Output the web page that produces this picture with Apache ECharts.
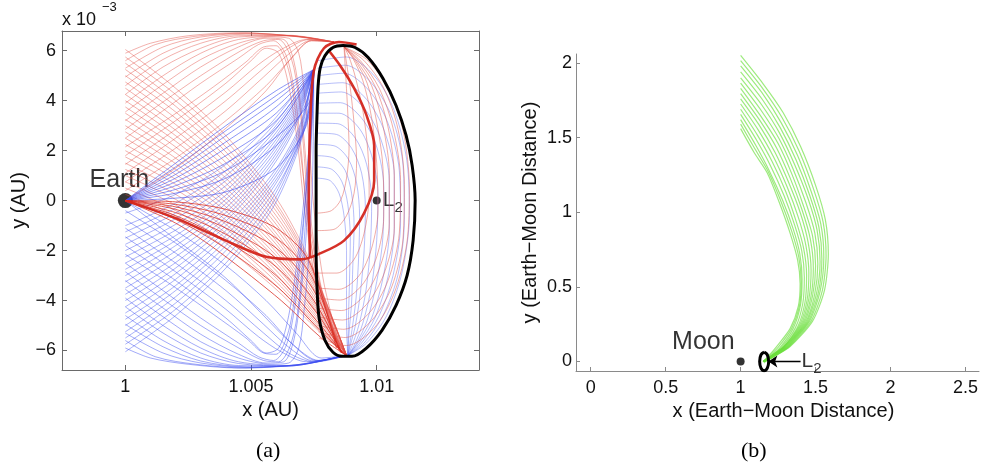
<!DOCTYPE html>
<html><head><meta charset="utf-8">
<script src="https://cdn.jsdelivr.net/npm/echarts/dist/echarts.min.js"></script>
<style>html,body{margin:0;padding:0;background:#fff}#c{width:987px;height:468px}</style>
</head><body><div id="c"></div>
<script>
// ---------- Panel (a): x in AU, y in 1e-3 AU ----------
const xTicksA = [1, 1.005, 1.01];
const yTicksA = [-6, -4, -2, 0, 2, 4, 6];
const earth = [[1, 0]];
const l2a = [[1.01, 0]];
const haloOrbit = [[1.00759,0],[1.00759,2.0],[1.00763,3.6],[1.00767,4.6],[1.00775,5.3],[1.00794,5.8],[1.00826,6.13],[1.00866,6.21],[1.00914,6.13],[1.00966,5.73],[1.01025,4.89],[1.01077,3.81],[1.01117,2.61],[1.01141,1.41],[1.01153,0],[1.01145,-1.59],[1.01121,-2.99],[1.01077,-4.19],[1.01021,-5.19],[1.00958,-5.91],[1.00902,-6.23],[1.00862,-6.23],[1.00826,-6.07],[1.00794,-5.59],[1.00771,-4.71],[1.00763,-3.59],[1.00759,-2.0],[1.00759,0]];

const redFalling = [
 [[1,6.05],[1.002,4.5],[1.004,2.6],[1.006,0.1],[1.0073,-2.3],[1.0082,-4.6],[1.0088,-6.2]],
 [[1,5.75],[1.002,4.25],[1.004,2.4],[1.006,-0.1],[1.00732,-2.45],[1.00822,-4.68],[1.0088,-6.2]],
 [[1,5.5],[1.002,4.0],[1.004,2.15],[1.006,-0.25],[1.00735,-2.6],[1.00825,-4.75],[1.0088,-6.2]],
 [[1,5.25],[1.002,3.78],[1.004,1.95],[1.006,-0.42],[1.00738,-2.75],[1.00828,-4.82],[1.0088,-6.2]],
 [[1,5.0],[1.002,3.55],[1.004,1.75],[1.006,-0.6],[1.0074,-2.9],[1.0083,-4.9],[1.0088,-6.2]],
 [[1,4.75],[1.002,3.3],[1.004,1.52],[1.006,-0.78],[1.00742,-3.05],[1.00832,-4.98],[1.0088,-6.2]],
 [[1,4.5],[1.002,3.05],[1.004,1.3],[1.006,-0.95],[1.00745,-3.2],[1.00835,-5.05],[1.0088,-6.2]],
 [[1,4.25],[1.002,2.82],[1.004,1.1],[1.006,-1.12],[1.00748,-3.35],[1.00838,-5.18],[1.0088,-6.2]],
 [[1,4.0],[1.002,2.6],[1.004,0.9],[1.006,-1.3],[1.0075,-3.5],[1.0084,-5.3],[1.0088,-6.2]],
 [[1,3.75],[1.002,2.38],[1.004,0.7],[1.006,-1.45],[1.0075,-3.62],[1.0084,-5.35],[1.0088,-6.2]],
 [[1,3.5],[1.002,2.15],[1.004,0.5],[1.006,-1.6],[1.0075,-3.75],[1.0084,-5.4],[1.0088,-6.2]],
 [[1,3.25],[1.002,1.92],[1.004,0.3],[1.006,-1.75],[1.0075,-3.88],[1.0084,-5.45],[1.0088,-6.2]],
 [[1,3.0],[1.002,1.7],[1.004,0.1],[1.006,-1.9],[1.0075,-4.0],[1.0084,-5.5],[1.0088,-6.2]],
 [[1,2.75],[1.002,1.48],[1.004,-0.08],[1.006,-2.05],[1.00752,-4.12],[1.00842,-5.55],[1.0088,-6.2]],
 [[1,2.5],[1.002,1.25],[1.004,-0.25],[1.006,-2.2],[1.00755,-4.25],[1.00845,-5.6],[1.0088,-6.2]],
 [[1,2.25],[1.002,1.05],[1.004,-0.42],[1.006,-2.35],[1.00758,-4.38],[1.00845,-5.65],[1.0088,-6.2]],
 [[1,2.0],[1.002,0.85],[1.004,-0.6],[1.006,-2.5],[1.0076,-4.5],[1.00845,-5.7],[1.0088,-6.2]],
 [[1,1.75],[1.002,0.65],[1.004,-0.78],[1.006,-2.65],[1.00762,-4.62],[1.00848,-5.75],[1.0088,-6.2]],
 [[1,1.5],[1.002,0.45],[1.004,-0.95],[1.006,-2.8],[1.00765,-4.75],[1.0085,-5.8],[1.0088,-6.2]],
 [[1,1.25],[1.002,0.25],[1.004,-1.12],[1.006,-2.95],[1.00768,-4.88],[1.0085,-5.85],[1.0088,-6.2]],
 [[1,1.0],[1.002,0.05],[1.004,-1.3],[1.006,-3.1],[1.0077,-5.0],[1.0085,-5.9],[1.0088,-6.2]],
 [[1,0.75],[1.002,-0.18],[1.004,-1.5],[1.006,-3.25],[1.00772,-5.1],[1.0088,-6.2]],
 [[1,0.5],[1.002,-0.4],[1.004,-1.7],[1.006,-3.4],[1.00775,-5.2],[1.0088,-6.2]],
 [[1,0.25],[1.002,-0.62],[1.004,-1.9],[1.006,-3.55],[1.00778,-5.3],[1.0088,-6.2]]
];
const redRising = [
 [[1,5.9],[1.001,6.3],[1.0025,6.6],[1.0045,6.72],[1.0065,6.6],[1.0082,6.35]],
 [[1,5.6],[1.0012,6.25],[1.0028,6.58],[1.0048,6.71],[1.0068,6.58],[1.0083,6.35]],
 [[1,5.3],[1.0015,6.15],[1.003,6.55],[1.005,6.7],[1.007,6.55],[1.0083,6.35]],
 [[1,4.95],[1.0015,5.9],[1.003,6.45],[1.0048,6.66],[1.0068,6.58],[1.0083,6.35]],
 [[1,4.6],[1.0015,5.65],[1.003,6.3],[1.0045,6.6],[1.0065,6.62],[1.0083,6.35]],
 [[1,4.25],[1.0015,5.35],[1.003,6.1],[1.0045,6.55],[1.0065,6.6],[1.0083,6.35]],
 [[1,3.9],[1.0015,5.0],[1.003,5.9],[1.0045,6.45],[1.0065,6.6],[1.0083,6.35]],
 [[1,3.55],[1.0015,4.65],[1.003,5.65],[1.0045,6.3],[1.0058,6.55],[1.0065,6.5],[1.0069,5.9],[1.0071,4.5],[1.0073,2.5],[1.0075,-0.3],[1.0079,-3.3],[1.0086,-6.1]],
 [[1,3.2],[1.0015,4.3],[1.003,5.35],[1.0045,6.15],[1.0056,6.5],[1.0063,6.45],[1.0067,5.6],[1.00695,4.0],[1.00715,2.0],[1.00735,-0.5],[1.0078,-3.5],[1.0086,-6.1]],
 [[1,2.85],[1.0015,3.95],[1.003,5.0],[1.0046,6.0],[1.0055,6.4],[1.0061,6.45],[1.0066,5.7],[1.0069,4.1],[1.0071,2.0],[1.0073,-0.6],[1.0078,-3.6],[1.0086,-6.1]],
 [[1,2.5],[1.0015,3.6],[1.003,4.7],[1.0045,5.7],[1.0053,6.25],[1.0059,6.4],[1.0064,5.8],[1.00675,4.2],[1.007,2.0],[1.00725,-0.8],[1.0078,-3.8],[1.0086,-6.1]],
 [[1,2.15],[1.0018,3.35],[1.0035,4.55],[1.0048,5.55],[1.0055,6.15],[1.006,6.2],[1.0065,5.2],[1.0068,3.3],[1.0071,0.8],[1.0076,-3.0],[1.0086,-6.1]],
 [[1,1.8],[1.002,3.2],[1.004,4.7],[1.005,5.6],[1.0056,6.1],[1.0061,5.9],[1.0065,4.6],[1.00685,2.3],[1.00715,-0.5],[1.0077,-3.8],[1.0086,-6.1]],
 [[1,1.45],[1.002,2.85],[1.004,4.35],[1.0053,5.45],[1.0062,6.05],[1.0072,6.45],[1.0083,6.35]],
 [[1,1.1],[1.002,2.5],[1.004,4.0],[1.0055,5.3],[1.0065,6.1],[1.0073,6.45],[1.0083,6.35]],
 [[1,0.75],[1.002,2.1],[1.004,3.6],[1.0055,4.95],[1.0066,5.95],[1.0074,6.42],[1.0083,6.35]],
 [[1,0.4],[1.002,1.7],[1.004,3.2],[1.0056,4.6],[1.0067,5.8],[1.0074,6.4],[1.0083,6.35]],
 [[1,0],[1.002,1.3],[1.004,2.9],[1.0056,4.4],[1.0066,5.7],[1.0074,6.4],[1.0083,6.35]]
];
const redEarth = [
 [[1,0],[1.002,-0.9],[1.0038,-2.1],[1.0062,-4.0],[1.0078,-5.5],[1.0088,-6.2]],
 [[1,0],[1.002,-0.75],[1.0039,-1.85],[1.0061,-3.5],[1.0077,-5.15],[1.00875,-6.18]],
 [[1,0],[1.002,-0.6],[1.004,-1.6],[1.006,-3.0],[1.0076,-4.8],[1.0087,-6.15]],
 [[1,0],[1.002,-0.48],[1.004,-1.35],[1.006,-2.65],[1.00755,-4.4],[1.00865,-6.12]],
 [[1,0],[1.002,-0.35],[1.004,-1.1],[1.006,-2.3],[1.0075,-4.0],[1.0086,-6.1]],
 [[1,0],[1.002,-0.25],[1.004,-0.85],[1.006,-1.9],[1.00745,-3.5],[1.00855,-6.05]],
 [[1,0],[1.002,-0.15],[1.004,-0.6],[1.006,-1.5],[1.0074,-3.0],[1.0085,-6.0]],
 [[1,0],[1.002,-0.05],[1.004,-0.35],[1.006,-1.1],[1.0073,-2.4],[1.0084,-5.9]]
];
const redInner = [
 [[1.0077,-5.5],[1.0088,-5.8],[1.0099,-5.1],[1.0107,-3.7],[1.0112,-1.7],[1.0113,0.5],[1.01105,2.8],[1.01045,4.5],[1.0096,5.65],[1.0087,6.15]],
 [[1.00768,-5.25],[1.00875,-5.48],[1.0098,-4.8],[1.0106,-3.45],[1.01105,-1.5],[1.0111,0.65],[1.01085,2.85],[1.01028,4.5],[1.00948,5.62],[1.0087,6.15]],
 [[1.00765,-5.0],[1.0087,-5.15],[1.0097,-4.5],[1.01045,-3.2],[1.0109,-1.3],[1.01095,0.8],[1.01065,2.9],[1.0101,4.5],[1.00935,5.6],[1.0087,6.15]],
 [[1.00765,-4.65],[1.00865,-4.78],[1.0096,-4.15],[1.0103,-2.9],[1.0107,-1.1],[1.0107,0.95],[1.01045,2.95],[1.00995,4.55],[1.00928,5.6],[1.0087,6.15]],
 [[1.00765,-4.3],[1.0086,-4.4],[1.0095,-3.8],[1.01015,-2.6],[1.0105,-0.9],[1.0105,1.1],[1.01025,3.0],[1.0098,4.6],[1.0092,5.6],[1.0087,6.15]],
 [[1.00765,-3.9],[1.00855,-3.98],[1.0094,-3.4],[1.01,-2.25],[1.01028,-0.65],[1.01025,1.3],[1.01,3.15],[1.00962,4.7],[1.00912,5.65],[1.0087,6.15]],
 [[1.00765,-3.5],[1.0085,-3.55],[1.0093,-3.0],[1.0098,-1.9],[1.01005,-0.4],[1.01,1.5],[1.0098,3.3],[1.00945,4.8],[1.00905,5.7],[1.0087,6.15]],
 [[1.00765,-2.9],[1.00842,-2.9],[1.0091,-2.35],[1.0095,-1.3],[1.0097,0.2],[1.00965,1.95],[1.00945,3.6],[1.00915,4.95],[1.0089,5.75],[1.0087,6.15]],
 [[1.00765,-1.2],[1.0083,-1.15],[1.0088,-0.6],[1.0091,0.3],[1.0092,1.6],[1.0091,3.1],[1.00895,4.5],[1.0088,5.5],[1.0087,6.15]],
 [[1.00765,-0.5],[1.0082,-0.4],[1.00858,0.05],[1.0088,0.9],[1.0089,2.1],[1.00885,3.5],[1.00878,4.8],[1.0087,6.15]]
];
const redThick = [
 [[1,0],[1.002,-0.7],[1.004,-1.6],[1.0056,-2.25],[1.007,-2.35],[1.00767,-2.15],[1.0087,-1.6],[1.0095,-0.5],[1.0099,0.8],[1.0099,2.2],[1.0096,3.4],[1.0091,4.5],[1.00855,5.4],[1.0081,6.0]],
 [[1.00735,-2.3],[1.0073,0],[1.00735,3.0],[1.0075,5.2],[1.0079,6.1],[1.0085,6.35],[1.0092,6.25]]
];
const blueRising = [
 [[1,-6.05],[1.002,-4.6],[1.004,-2.7],[1.0058,-0.4],[1.0068,1.8],[1.0073,3.6],[1.0075,5.25]],
 [[1,-5.75],[1.002,-4.35],[1.004,-2.5],[1.0058,-0.2],[1.0068,1.95],[1.0073,3.7],[1.0075,5.25]],
 [[1,-5.5],[1.002,-4.1],[1.004,-2.25],[1.0058,0],[1.0068,2.1],[1.0073,3.8],[1.0075,5.25]],
 [[1,-5.25],[1.002,-3.85],[1.004,-2.0],[1.0058,0.2],[1.0069,2.25],[1.0074,3.9],[1.0075,5.25]],
 [[1,-5.0],[1.002,-3.6],[1.004,-1.8],[1.0058,0.4],[1.0069,2.4],[1.0074,4.0],[1.0075,5.25]],
 [[1,-4.75],[1.002,-3.4],[1.004,-1.6],[1.0058,0.55],[1.0069,2.5],[1.0075,5.25]],
 [[1,-4.5],[1.002,-3.15],[1.004,-1.4],[1.0058,0.7],[1.0069,2.65],[1.0075,5.25]],
 [[1,-4.25],[1.002,-2.92],[1.004,-1.2],[1.0058,0.85],[1.0069,2.78],[1.0075,5.25]],
 [[1,-4.0],[1.002,-2.7],[1.004,-1.0],[1.0058,1.0],[1.0069,2.9],[1.0075,5.25]],
 [[1,-3.75],[1.002,-2.48],[1.004,-0.82],[1.0057,1.15],[1.0068,3.02],[1.0075,5.25]],
 [[1,-3.5],[1.002,-2.25],[1.004,-0.65],[1.0057,1.3],[1.0068,3.15],[1.0075,5.25]],
 [[1,-3.25],[1.002,-2.02],[1.004,-0.48],[1.0057,1.45],[1.0068,3.28],[1.0075,5.25]],
 [[1,-3.0],[1.002,-1.8],[1.004,-0.3],[1.0057,1.6],[1.0068,3.4],[1.0075,5.25]],
 [[1,-2.75],[1.002,-1.6],[1.004,-0.12],[1.0057,1.75],[1.0068,3.5],[1.0075,5.25]],
 [[1,-2.5],[1.002,-1.4],[1.004,0.05],[1.0057,1.9],[1.0068,3.6],[1.0075,5.25]],
 [[1,-2.25],[1.002,-1.18],[1.004,0.22],[1.0057,2.05],[1.0068,3.7],[1.0075,5.25]],
 [[1,-2.0],[1.002,-0.95],[1.004,0.4],[1.0057,2.2],[1.0068,3.8],[1.0075,5.25]],
 [[1,-1.75],[1.002,-0.72],[1.004,0.6],[1.0057,2.35],[1.0068,3.9],[1.0075,5.25]],
 [[1,-1.5],[1.002,-0.5],[1.004,0.8],[1.0057,2.5],[1.0068,4.0],[1.0075,5.25]],
 [[1,-1.25],[1.002,-0.3],[1.004,1.0],[1.0057,2.65],[1.0068,4.1],[1.0075,5.25]],
 [[1,-1.0],[1.002,-0.1],[1.004,1.2],[1.0057,2.8],[1.0068,4.2],[1.0075,5.25]],
 [[1,-0.5],[1.002,0.25],[1.004,1.45],[1.0057,3.0],[1.0068,4.35],[1.0075,5.25]]
];
const blueEarth = [
 [[1,0],[1.002,1.5],[1.004,3.0],[1.006,4.4],[1.0075,5.25]],
 [[1,0],[1.002,1.35],[1.004,2.8],[1.006,4.2],[1.0075,5.25]],
 [[1,0],[1.002,1.2],[1.004,2.6],[1.006,4.0],[1.0075,5.25]],
 [[1,0],[1.002,1.05],[1.004,2.35],[1.006,3.75],[1.0075,5.25]],
 [[1,0],[1.002,0.9],[1.004,2.1],[1.006,3.5],[1.0075,5.25]],
 [[1,0],[1.002,0.75],[1.004,1.8],[1.006,3.2],[1.0075,5.25]],
 [[1,0],[1.002,0.6],[1.004,1.5],[1.006,2.9],[1.0075,5.25]],
 [[1,0],[1.002,0.45],[1.004,1.2],[1.006,2.55],[1.0073,3.9],[1.0075,5.25]],
 [[1,0],[1.002,0.3],[1.004,0.9],[1.006,2.2],[1.0071,3.7],[1.0075,5.25]],
 [[1,0],[1.002,0.1],[1.004,0.35],[1.006,1.3],[1.0072,3.0],[1.0075,5.25]]
];
const blueFalling = [
 [[1,-5.9],[1.001,-6.3],[1.0025,-6.55],[1.0045,-6.7],[1.0065,-6.6],[1.008,-6.4],[1.0088,-6.2]],
 [[1,-5.6],[1.0012,-6.25],[1.0028,-6.55],[1.0048,-6.7],[1.0068,-6.58],[1.0085,-6.25]],
 [[1,-5.3],[1.0015,-6.1],[1.003,-6.5],[1.005,-6.68],[1.007,-6.55],[1.0085,-6.25]],
 [[1,-4.95],[1.0015,-5.85],[1.003,-6.42],[1.0048,-6.65],[1.0068,-6.6],[1.0085,-6.25]],
 [[1,-4.6],[1.0015,-5.6],[1.003,-6.3],[1.0045,-6.6],[1.0065,-6.62],[1.0085,-6.25]],
 [[1,-4.25],[1.0015,-5.3],[1.003,-6.1],[1.0045,-6.52],[1.0065,-6.62],[1.0085,-6.25]],
 [[1,-3.9],[1.0015,-5.0],[1.003,-5.9],[1.0045,-6.45],[1.0065,-6.6],[1.0085,-6.25]],
 [[1,-3.55],[1.0015,-4.65],[1.003,-5.65],[1.0045,-6.3],[1.0058,-6.55],[1.0065,-6.5],[1.0069,-5.9],[1.0071,-4.5],[1.0073,-2.2],[1.00745,1.0],[1.0075,5.25]],
 [[1,-3.2],[1.0015,-4.3],[1.003,-5.35],[1.0045,-6.15],[1.0056,-6.5],[1.0063,-6.45],[1.0067,-5.6],[1.00695,-4.0],[1.00715,-2.0],[1.0073,0.5],[1.00745,3.5],[1.0075,5.25]],
 [[1,-2.85],[1.0015,-3.95],[1.003,-5.0],[1.0046,-5.95],[1.0055,-6.4],[1.0061,-6.45],[1.0066,-5.7],[1.0069,-4.1],[1.0071,-1.8],[1.0073,1.2],[1.0075,5.25]],
 [[1,-2.5],[1.0015,-3.6],[1.003,-4.7],[1.0045,-5.7],[1.0053,-6.25],[1.0059,-6.4],[1.0064,-5.8],[1.00675,-4.2],[1.007,-2.0],[1.0072,0.5],[1.0074,3.3],[1.0075,5.25]],
 [[1,-2.15],[1.0018,-3.35],[1.0035,-4.55],[1.0048,-5.5],[1.0055,-6.1],[1.006,-6.15],[1.0065,-5.2],[1.0068,-3.3],[1.0071,-0.6],[1.0074,2.8],[1.0075,5.25]],
 [[1,-1.8],[1.002,-3.2],[1.004,-4.7],[1.005,-5.6],[1.0056,-6.1],[1.0061,-5.9],[1.0065,-4.6],[1.00685,-2.3],[1.00715,0.5],[1.0074,3.2],[1.0075,5.25]],
 [[1,-1.45],[1.002,-2.85],[1.004,-4.35],[1.0053,-5.45],[1.0062,-6.05],[1.0072,-6.45],[1.0088,-6.2]],
 [[1,-1.1],[1.002,-2.5],[1.004,-4.0],[1.0055,-5.3],[1.0065,-6.1],[1.0075,-6.45],[1.0088,-6.2]],
 [[1,-0.75],[1.002,-2.1],[1.004,-3.6],[1.0055,-4.95],[1.0066,-5.95],[1.0075,-6.42],[1.0088,-6.2]],
 [[1,-0.4],[1.002,-1.7],[1.004,-3.2],[1.0056,-4.6],[1.0067,-5.8],[1.0076,-6.4],[1.0088,-6.2]],
 [[1,0],[1.002,-1.2],[1.004,-2.6],[1.0056,-4.0],[1.0068,-5.3],[1.0078,-6.3],[1.0088,-6.2]],
 [[1,0],[1.002,-1.55],[1.004,-3.1],[1.0054,-4.5],[1.0066,-5.7],[1.0077,-6.4],[1.0088,-6.2]]
];
const blueInner = [
 [[1.00765,5.6],[1.0088,5.75],[1.0099,5.0],[1.0107,3.6],[1.0112,1.6],[1.0113,-0.6],[1.011,-2.9],[1.0104,-4.6],[1.0096,-5.7],[1.00885,-6.2]],
 [[1.00765,5.3],[1.00875,5.42],[1.0098,4.7],[1.0106,3.35],[1.01105,1.4],[1.0111,-0.75],[1.01085,-2.95],[1.01025,-4.6],[1.0095,-5.7],[1.00885,-6.2]],
 [[1.00765,5.0],[1.0087,5.1],[1.0097,4.4],[1.01045,3.1],[1.0109,1.2],[1.01095,-0.9],[1.01065,-3.0],[1.0101,-4.6],[1.0094,-5.7],[1.00885,-6.2]],
 [[1.00765,4.65],[1.00865,4.72],[1.0096,4.05],[1.0103,2.8],[1.0107,1.0],[1.0107,-1.05],[1.01045,-3.05],[1.00995,-4.65],[1.00932,-5.7],[1.00885,-6.2]],
 [[1.00765,4.3],[1.0086,4.35],[1.0095,3.7],[1.01015,2.5],[1.0105,0.8],[1.0105,-1.2],[1.01025,-3.1],[1.0098,-4.7],[1.00925,-5.7],[1.00885,-6.2]],
 [[1.00765,3.9],[1.00855,3.92],[1.0094,3.3],[1.01,2.15],[1.01028,0.55],[1.01025,-1.4],[1.01,-3.25],[1.00962,-4.8],[1.00918,-5.75],[1.00885,-6.2]],
 [[1.00765,3.5],[1.0085,3.5],[1.0093,2.9],[1.0098,1.8],[1.01005,0.3],[1.01,-1.6],[1.0098,-3.4],[1.00945,-4.9],[1.0091,-5.8],[1.00885,-6.2]],
 [[1.00765,3.1],[1.00845,3.08],[1.00915,2.5],[1.0096,1.45],[1.0098,0.0],[1.00975,-1.8],[1.00958,-3.55],[1.0093,-4.95],[1.00902,-5.8],[1.00885,-6.2]],
 [[1.00765,2.7],[1.0084,2.65],[1.009,2.1],[1.0094,1.1],[1.00955,-0.3],[1.0095,-2.0],[1.00935,-3.7],[1.00915,-5.0],[1.00895,-5.8],[1.00885,-6.2]],
 [[1.00765,2.25],[1.00835,2.18],[1.00888,1.65],[1.0092,0.7],[1.00932,-0.65],[1.00928,-2.3],[1.00918,-3.9],[1.00902,-5.15],[1.00885,-6.2]],
 [[1.00765,1.8],[1.0083,1.7],[1.00875,1.2],[1.009,0.3],[1.0091,-1.0],[1.00905,-2.6],[1.009,-4.1],[1.0089,-5.3],[1.00885,-6.2]],
 [[1.00765,1.35],[1.00822,1.25],[1.00862,0.75],[1.00885,-0.15],[1.00895,-1.5],[1.00892,-3.1],[1.00888,-4.6],[1.00885,-6.2]],
 [[1.00765,0.9],[1.00815,0.8],[1.0085,0.3],[1.0087,-0.6],[1.0088,-2.0],[1.0088,-3.6],[1.0088,-5.0],[1.00885,-6.2]]
];

// ---------- Panel (b): Earth-Moon distances ----------
const xTicksB = [0, 0.5, 1, 1.5, 2, 2.5];
const yTicksB = [0, 0.5, 1, 1.5, 2];
const moon = [[1, 0]];
const l2Label = [[1.4, 0]];
const l2Arrow = [[1.4, 0], [1.185, 0]];
const smallOrbit = [[1.157,0.063],[1.178,0.045],[1.187,0],[1.178,-0.045],[1.157,-0.063],[1.136,-0.045],[1.127,0],[1.136,0.045],[1.157,0.063]];
const greenArcs = [
 [[1.0,2.05],[1.15,1.86],[1.284,1.666],[1.40,1.44],[1.50,1.18],[1.565,0.95],[1.585,0.72],[1.56,0.48],[1.48,0.27],[1.33,0.1],[1.2,0.02],[1.16,0.0]],
 [[1.0,2.015],[1.15,1.825],[1.277,1.633],[1.39,1.41],[1.485,1.16],[1.55,0.935],[1.57,0.71],[1.545,0.475],[1.47,0.27],[1.325,0.1],[1.2,0.02],[1.16,0.0]],
 [[1.0,1.98],[1.15,1.79],[1.27,1.60],[1.38,1.38],[1.47,1.14],[1.535,0.92],[1.555,0.70],[1.53,0.47],[1.46,0.27],[1.32,0.1],[1.2,0.02],[1.16,0.0]],
 [[1.0,1.94],[1.145,1.755],[1.265,1.565],[1.37,1.35],[1.46,1.115],[1.522,0.9],[1.542,0.685],[1.518,0.46],[1.45,0.265],[1.315,0.1],[1.195,0.02],[1.158,0.0]],
 [[1.0,1.9],[1.14,1.72],[1.26,1.53],[1.36,1.32],[1.45,1.09],[1.51,0.88],[1.53,0.67],[1.505,0.45],[1.44,0.26],[1.31,0.1],[1.19,0.02],[1.155,-0.01]],
 [[1.0,1.865],[1.135,1.685],[1.255,1.495],[1.35,1.29],[1.435,1.065],[1.495,0.86],[1.515,0.655],[1.493,0.445],[1.43,0.255],[1.305,0.1],[1.19,0.02],[1.155,0.0]],
 [[1.0,1.83],[1.13,1.65],[1.25,1.46],[1.34,1.26],[1.42,1.04],[1.48,0.84],[1.50,0.64],[1.48,0.44],[1.42,0.25],[1.30,0.1],[1.19,0.02],[1.155,0.0]],
 [[1.0,1.795],[1.125,1.62],[1.24,1.43],[1.33,1.23],[1.41,1.015],[1.465,0.82],[1.485,0.625],[1.468,0.43],[1.41,0.245],[1.295,0.1],[1.185,0.02],[1.152,0.0]],
 [[1.0,1.76],[1.12,1.59],[1.23,1.40],[1.32,1.2],[1.4,0.99],[1.45,0.8],[1.47,0.61],[1.455,0.42],[1.40,0.24],[1.29,0.1],[1.18,0.02],[1.15,0.0]],
 [[1.0,1.725],[1.115,1.555],[1.22,1.37],[1.31,1.17],[1.385,0.965],[1.435,0.78],[1.455,0.595],[1.443,0.41],[1.39,0.235],[1.285,0.095],[1.18,0.02],[1.15,0.0]],
 [[1.0,1.69],[1.11,1.52],[1.21,1.34],[1.30,1.14],[1.37,0.94],[1.42,0.76],[1.44,0.58],[1.43,0.40],[1.38,0.23],[1.28,0.09],[1.18,0.02],[1.15,0.0]],
 [[1.0,1.655],[1.105,1.485],[1.2,1.31],[1.29,1.11],[1.36,0.915],[1.408,0.74],[1.425,0.565],[1.415,0.39],[1.365,0.225],[1.27,0.09],[1.18,0.02],[1.15,0.0]],
 [[1.0,1.62],[1.10,1.45],[1.19,1.28],[1.28,1.08],[1.35,0.89],[1.395,0.72],[1.41,0.55],[1.40,0.38],[1.35,0.22],[1.26,0.09],[1.18,0.02],[1.15,0.0]],
 [[1.0,1.59],[1.095,1.425],[1.185,1.27],[1.27,1.07],[1.34,0.875],[1.388,0.7],[1.404,0.535],[1.393,0.375],[1.34,0.22],[1.25,0.095],[1.18,0.025],[1.15,0.0]],
 [[1.0,1.56],[1.09,1.40],[1.178,1.263],[1.26,1.06],[1.33,0.86],[1.38,0.68],[1.397,0.52],[1.385,0.37],[1.33,0.22],[1.24,0.1],[1.18,0.03],[1.15,0.0]]
];

// ---------- build ----------
const FONT = 'Liberation Sans, Arial, Helvetica, sans-serif';
const minus = v => String(+v.toFixed(6)).replace('-', '\u2212');
const chart = echarts.init(document.getElementById('c'), null, {renderer: 'canvas'});

function fam(curves, color, width, opacity, axis, sm) {
  return curves.map(c => ({
    type: 'line', xAxisIndex: axis, yAxisIndex: axis, data: c,
    showSymbol: false, symbol: 'none', smooth: sm === undefined ? 0.3 : sm, silent: true, animation: false,
    lineStyle: {color: color, width: width, opacity: opacity}
  }));
}

const axColA = '#6a6a6a';
function boxAxis(base, extra) { return Object.assign({}, base, extra); }

const xBaseA = {type: 'value', gridIndex: 0, min: 0.99748, max: 1.01407, splitNumber: 3,
  splitLine: {show: false}, axisLine: {show: true, onZero: false, lineStyle: {color: axColA, width: 1}},
  axisTick: {show: true, inside: true, length: 5, lineStyle: {color: axColA}}};
const yBaseA = {type: 'value', gridIndex: 0, min: -6.78, max: 6.79, splitNumber: 7,
  splitLine: {show: false}, axisLine: {show: true, onZero: false, lineStyle: {color: axColA, width: 1}},
  axisTick: {show: true, inside: true, length: 5, lineStyle: {color: axColA}}};
const axColB = '#8a8a8a';

const option = {
  animation: false,
  backgroundColor: '#ffffff',
  grid: [
    {left: 62, top: 31, width: 417, height: 339},
    {left: 576, top: 54, width: 403, height: 317}
  ],
  xAxis: [
    boxAxis(xBaseA, {position: 'bottom',
      axisLabel: {color: '#111', fontSize: 18, fontFamily: FONT, margin: 8, showMinLabel: false, showMaxLabel: false},
      name: 'x (AU)', nameLocation: 'middle', nameGap: 29,
      nameTextStyle: {color: '#111', fontSize: 20, fontFamily: FONT}}),
    boxAxis(xBaseA, {position: 'top', axisLabel: {show: false}}),
    {type: 'value', gridIndex: 1, min: -0.098, max: 2.59, splitNumber: 5, position: 'bottom',
      splitLine: {show: false}, axisLine: {show: true, onZero: false, lineStyle: {color: axColB}},
      axisTick: {show: true, inside: true, length: 4, lineStyle: {color: axColB}},
      axisLabel: {color: '#111', fontSize: 18, fontFamily: FONT, margin: 8, showMinLabel: false, showMaxLabel: false},
      name: 'x (Earth\u2212Moon Distance)', nameLocation: 'middle', nameGap: 30,
      nameTextStyle: {color: '#111', fontSize: 20, fontFamily: FONT, padding: [0, 0, 0, 12]}}
  ],
  yAxis: [
    boxAxis(yBaseA, {position: 'left',
      axisLabel: {color: '#111', fontSize: 18, fontFamily: FONT, margin: 6, formatter: minus, showMinLabel: false, showMaxLabel: false},
      name: 'y (AU)', nameLocation: 'middle', nameGap: 33, nameRotate: 90,
      nameTextStyle: {color: '#111', fontSize: 20, fontFamily: FONT}}),
    boxAxis(yBaseA, {position: 'right', axisLabel: {show: false}}),
    {type: 'value', gridIndex: 1, min: -0.064, max: 2.06, splitNumber: 4, position: 'left',
      splitLine: {show: false}, axisLine: {show: true, onZero: false, lineStyle: {color: axColB}},
      axisTick: {show: true, inside: true, length: 4, lineStyle: {color: axColB}},
      axisLabel: {color: '#111', fontSize: 18, fontFamily: FONT, margin: 4, showMinLabel: false, showMaxLabel: false},
      name: 'y (Earth\u2212Moon Distance)', nameLocation: 'middle', nameGap: 36, nameRotate: 90,
      nameTextStyle: {color: '#111', fontSize: 20, fontFamily: FONT}}
  ],
  series: [].concat(
    fam(redRising, '#e04a40', 0.8, 0.55, 0),
    fam(redFalling, '#e04a40', 0.8, 0.55, 0),
    fam(blueRising, '#3a4cf0', 0.8, 0.55, 0),
    fam(blueFalling, '#3a4cf0', 0.8, 0.6, 0),
    fam(blueEarth, '#3a4cf0', 0.9, 0.65, 0),
    fam(redEarth, '#d8281e', 1.0, 0.75, 0),
    fam(blueInner, '#4a5cf0', 0.8, 0.5, 0),
    fam(redInner, '#e0554c', 0.9, 0.55, 0),
    fam(redThick, '#d4261c', 2.6, 0.95, 0),
    [{type: 'line', xAxisIndex: 0, yAxisIndex: 0, data: haloOrbit, showSymbol: false, symbol: 'none',
      smooth: 0.3, silent: true, lineStyle: {color: '#000', width: 3}}],
    [{type: 'scatter', xAxisIndex: 0, yAxisIndex: 0, data: earth, symbolSize: 15, silent: true,
      itemStyle: {color: '#000'},
      label: {show: true, formatter: 'Earth', position: 'top', distance: 1, offset: [-6, 0],
        color: '#000', fontSize: 25, fontFamily: FONT}},
     {type: 'scatter', xAxisIndex: 0, yAxisIndex: 0, data: l2a, symbolSize: 8, silent: true,
      itemStyle: {color: '#000'},
      label: {show: true, formatter: '{l|L}{s|2}', position: 'right', distance: 2,
        rich: {l: {fontSize: 21, color: '#000', fontFamily: FONT},
               s: {fontSize: 15, color: '#000', fontFamily: FONT, padding: [14, 0, 0, 0]}}}}],
    fam(greenArcs, '#6ade3a', 1.2, 0.65, 2, 0.25),
    [{type: 'line', xAxisIndex: 2, yAxisIndex: 2, data: smallOrbit, showSymbol: false, symbol: 'none',
      smooth: 0.4, silent: true, lineStyle: {color: '#000', width: 3}},
     {type: 'lines', coordinateSystem: 'cartesian2d', xAxisIndex: 2, yAxisIndex: 2, silent: true,
      data: [{coords: l2Arrow}], symbol: ['none', 'arrow'], symbolSize: 9,
      lineStyle: {color: '#000', width: 1.3, opacity: 1}},
     {type: 'scatter', xAxisIndex: 2, yAxisIndex: 2, data: moon, symbolSize: 8, silent: true,
      itemStyle: {color: '#000'},
      label: {show: true, formatter: 'Moon', position: 'left', distance: 2, offset: [0, -19],
        color: '#000', fontSize: 25, fontFamily: FONT}},
     {type: 'scatter', xAxisIndex: 2, yAxisIndex: 2, data: l2Label, symbolSize: 0, silent: true,
      label: {show: true, formatter: '{l|L}{s|2}', position: 'right', distance: 1,
        rich: {l: {fontSize: 21, color: '#000', fontFamily: FONT},
               s: {fontSize: 15, color: '#000', fontFamily: FONT, padding: [14, 0, 0, 0]}}}}]
  ),
  graphic: [
    {type: 'text', left: 62, top: 11, style: {text: 'x 10', font: '18px ' + FONT, fill: '#111'}},
    {type: 'text', left: 102, top: 1, style: {text: '\u22123', font: '13px ' + FONT, fill: '#111'}},
    {type: 'text', left: 256, top: 440, style: {text: '(a)', font: '22px "Liberation Serif", "Times New Roman", serif', fill: '#000'}},
    {type: 'text', left: 741, top: 440, style: {text: '(b)', font: '22px "Liberation Serif", "Times New Roman", serif', fill: '#000'}}
  ]
};
chart.setOption(option);
</script></body></html>
